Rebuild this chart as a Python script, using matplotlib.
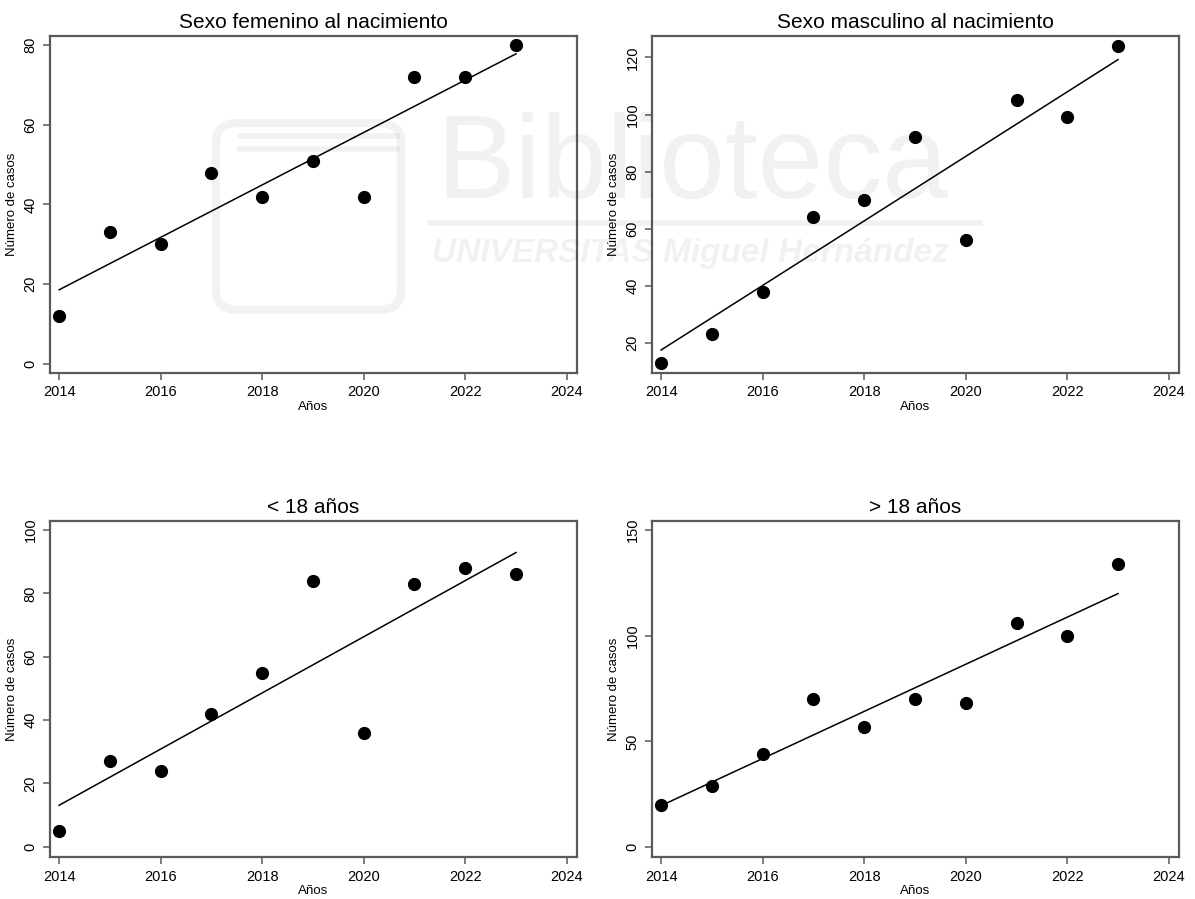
import numpy as np
import matplotlib
matplotlib.use("Agg")
import matplotlib.pyplot as plt
from matplotlib.patches import FancyBboxPatch
from matplotlib.lines import Line2D

plt.rcParams['font.family'] = ['Liberation Sans', 'DejaVu Sans']

years = [2014, 2015, 2016, 2017, 2018, 2019, 2020, 2021, 2022, 2023]

femenino = [12, 33, 30, 48, 42, 51, 42, 72, 72, 80]
masculino = [13, 23, 38, 64, 70, 92, 56, 105, 99, 124]
menores = [5, 27, 24, 42, 55, 84, 36, 83, 88, 86]
mayores = [20, 29, 44, 70, 57, 70, 68, 106, 100, 134]

titles = ["Sexo femenino al nacimiento", "Sexo masculino al nacimiento",
          "< 18 años", "> 18 años"]
series = [femenino, masculino, menores, mayores]
yticks = [[0, 20, 40, 60, 80], [20, 40, 60, 80, 100, 120],
          [0, 20, 40, 60, 80, 100], [0, 50, 100, 150]]
ylims = [(-2.3, 82.3), (9.5, 127.5), (-3.2, 102.8), (-4.7, 154.3)]
xticks = [2014, 2016, 2018, 2020, 2022, 2024]

# axes boxes in figure fractions: left, bottom, width, height
boxes = [[0.0418, 0.5851, 0.4410, 0.3749],
         [0.5456, 0.5851, 0.4410, 0.3749],
         [0.0418, 0.0467, 0.4410, 0.3737],
         [0.5456, 0.0467, 0.4410, 0.3737]]

spine_col = '#5a5a5a'
W, H = 1195, 899

fig = plt.figure(figsize=(11.95, 8.99), dpi=100)

for i in range(4):
    ax = fig.add_axes(boxes[i])
    y = np.array(series[i], dtype=float)
    x = np.array(years, dtype=float)
    coef = np.polyfit(x, y, 1)
    ax.plot(x, y, 'o', color='black', markersize=8.5, zorder=3)
    ax.plot([x[0], x[-1]], np.polyval(coef, [x[0], x[-1]]), color='black',
            linewidth=1.1, zorder=2)
    ax.set_xlim(2013.82, 2024.2)
    ax.set_ylim(ylims[i])
    ax.set_xticks(xticks)
    ax.set_yticks(yticks[i])
    ax.set_yticklabels([str(t) for t in yticks[i]], rotation=90, va='center')
    ax.tick_params(labelsize=10.5, length=5, width=1.1, color=spine_col,
                   pad=4)
    for s in ax.spines.values():
        s.set_color(spine_col)
        s.set_linewidth(1.6)
    ax.set_title(titles[i], fontsize=15, pad=6)
    ax.set_xlabel('Años', fontsize=9.5, labelpad=1)
    ax.set_ylabel('Número de casos', fontsize=9.5, labelpad=4)

# faint library watermark (pixel positions converted to figure fractions)
wm = dict(color='black', alpha=0.055, zorder=10)
fig.text(436 / W, 1 - 198 / H, 'Biblioteca', fontsize=85, ha='left',
         va='baseline', **wm)
fig.text(432 / W, 1 - 262 / H, 'UNIVERSITAS Miguel Hernández', fontsize=24,
         ha='left', va='baseline', fontweight='bold', style='italic', **wm)
fig.lines.append(Line2D([430 / W, 980 / W], [1 - 223 / H, 1 - 223 / H],
                        transform=fig.transFigure, linewidth=4, **wm))
logo = FancyBboxPatch((216 / W, 1 - 310 / H), 185 / W, 187 / H,
                      boxstyle='round,pad=0,rounding_size=0.02',
                      transform=fig.transFigure, fill=False, linewidth=6,
                      edgecolor='black', alpha=0.05, zorder=10)
fig.patches.append(logo)
for yy in [136, 149]:
    fig.lines.append(Line2D([240 / W, 397 / W], [1 - yy / H, 1 - yy / H],
                            transform=fig.transFigure, linewidth=4, **wm))

fig.savefig('out.png', dpi=100)
